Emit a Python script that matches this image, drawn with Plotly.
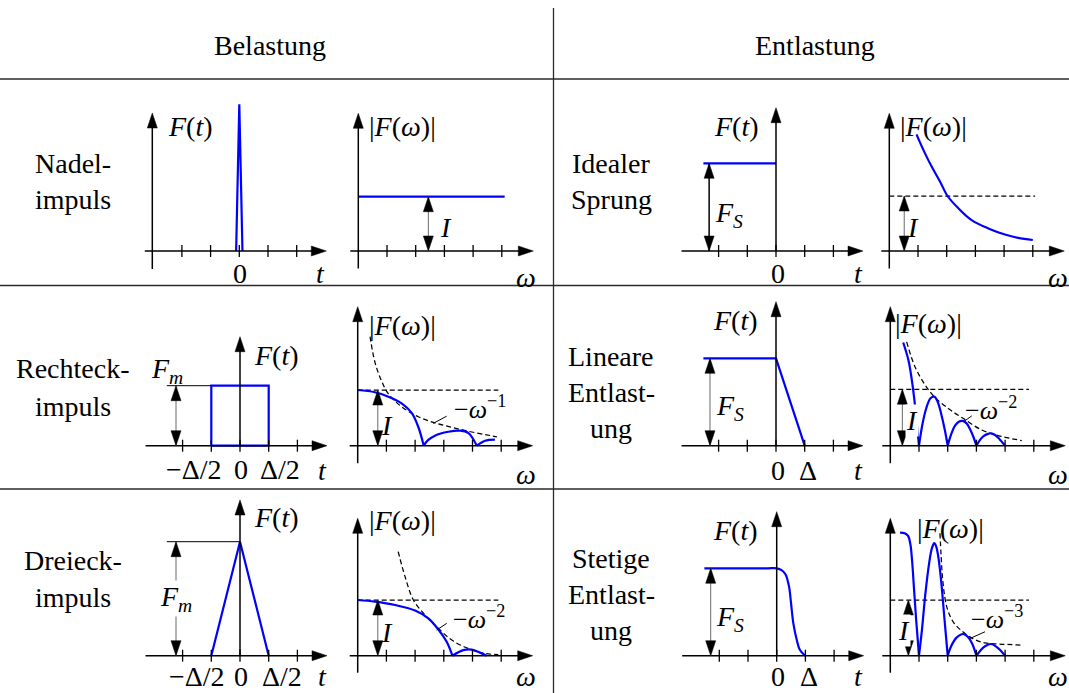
import plotly.graph_objects as go

W, H = 1069, 693
FONT = "Liberation Serif"

# ---------------- data ----------------
headers = ["Belastung", "Entlastung"]
labels_left = [["Nadel-", "impuls"], ["Rechteck-", "impuls"], ["Dreieck-", "impuls"]]
labels_right = [["Idealer", "Sprung"], ["Lineare", "Entlast-", "ung"], ["Stetige", "Entlast-", "ung"]]

time_ticks = [-2, -1, 0, 1, 2]
freq_ticks = [1, 2, 3, 4, 5]
I_level = [1.0, 1.0]

# Nadelimpuls
nadel_t = [-0.11, 0.0, 0.11]
nadel_F = [0.0, 1.0, 0.0]
nadel_w = [0.0, 5.1]
nadel_S = [1.0, 1.0]

# Idealer Sprung
sprung_t = [-2.53, 0.0]
sprung_F = [1.0, 1.0]
sprung_w = [0.95, 1.03, 1.24, 1.48, 1.77, 2.03, 2.40, 2.87, 3.45, 4.03, 4.49, 5.0]
sprung_S = [2.12, 2.02, 1.78, 1.53, 1.26, 1.0, 0.78, 0.56, 0.41, 0.30, 0.24, 0.2]
sprung_lvl_w = [0.0, 5.08]

# Rechteckimpuls
rect_t = [-1, -1, 1, 1, -1]
rect_F = [0, 1, 1, 0, 0]
rect_w = [0.0, 0.6, 1.07, 1.53, 1.88, 2.11, 2.3, None,
          2.3, 2.45, 2.69, 3.16, 3.56, 3.85, 4.15, None,
          4.15, 4.44, 4.78]
rect_S = [1.0, 0.96, 0.88, 0.76, 0.59, 0.34, 0.0, None,
          0.0, 0.10, 0.18, 0.25, 0.27, 0.23, 0.0, None,
          0.0, 0.09, 0.11]
rect_env_w = [0.43, 0.6, 0.84, 1.07, 1.53, 2.11, 2.69, 3.28, 3.85, 4.44, 4.85]
rect_env_S = [1.96, 1.5, 1.15, 0.93, 0.7, 0.52, 0.41, 0.33, 0.26, 0.2, 0.16]
rect_lvl_w = [0.0, 4.9]

# Dreieckimpuls
tri_t = [-1, 0, 1]
tri_F = [0, 1, 0]
tri_w = [0.0, 0.6, 1.3, 2.0, 2.46, 2.81, 3.1, 3.3, None,
         3.3, 3.68, 3.97, 4.26, 4.49]
tri_S = [1.0, 0.97, 0.91, 0.81, 0.67, 0.47, 0.25, 0.0, None,
         0.0, 0.10, 0.11, 0.055, 0.0]
tri_env_w = [1.41, 1.65, 1.94, 2.35, 2.75, 3.28, 3.85, 4.43, 4.9]
tri_env_S = [1.87, 1.42, 1.0, 0.73, 0.52, 0.28, 0.13, 0.04, 0.02]
tri_lvl_w = [0.0, 4.9]

# Lineare Entlastung
lin_t = [-2.53, 0.0, 1.0]
lin_F = [1.0, 1.0, 0.0]
lin_w = [0.45, 0.63, 0.74, 0.84, 0.92, 1.0, None,
         1.0, 1.12, 1.25, 1.4, 1.53, 1.65, 1.78, 1.9, 2.0, None,
         2.0, 2.12, 2.25, 2.4, 2.52, 2.65, 2.8, 2.9, 3.0, None,
         3.0, 3.12, 3.25, 3.4, 3.51, 3.65, 3.8, 3.9, 4.0]
lin_S = [1.83, 1.52, 1.2, 0.81, 0.4, 0.0, None,
         0.0, 0.38, 0.66, 0.84, 0.87, 0.78, 0.55, 0.28, 0.0, None,
         0.0, 0.2, 0.35, 0.43, 0.44, 0.4, 0.27, 0.15, 0.0, None,
         0.0, 0.1, 0.17, 0.21, 0.22, 0.19, 0.12, 0.06, 0.0]
lin_env_w = [0.57, 0.86, 1.21, 1.53, 2.02, 2.52, 3.18, 3.76, 4.58]
lin_env_S = [1.84, 1.4, 1.08, 0.87, 0.66, 0.49, 0.28, 0.18, 0.09]
lin_lvl_w = [0.0, 4.83]

# Stetige Entlastung
smooth_t = [-2.52, -0.3, 0.0, 0.17, 0.31, 0.43, 0.5, 0.58, 0.7, 0.81, 0.99]
smooth_F = [1.0, 1.0, 1.0, 0.98, 0.93, 0.79, 0.6, 0.37, 0.18, 0.065, 0.0]
smooth_w = [0.34, 0.5, 0.62, 0.7, 0.76, 0.82, 0.9, 1.0, None,
            1.0, 1.1, 1.22, 1.35, 1.45, 1.53, 1.6, 1.68, 1.78, 1.88, 2.0, None,
            2.0, 2.12, 2.3, 2.54, 2.7, 2.85, 3.0, None,
            3.0, 3.15, 3.3, 3.51, 3.7, 3.85, 4.0]
smooth_S = [2.21, 2.2, 2.15, 2.0, 1.7, 1.25, 0.65, 0.0, None,
            0.0, 0.45, 1.1, 1.65, 1.93, 2.02, 1.96, 1.75, 1.3, 0.7, 0.0, None,
            0.0, 0.17, 0.32, 0.39, 0.34, 0.22, 0.0, None,
            0.0, 0.1, 0.17, 0.21, 0.16, 0.09, 0.0]
smooth_env_w = [1.73, 1.77, 1.82, 1.9, 2.0, 2.2, 2.5, 2.9, 3.3, 3.8, 4.58]
smooth_env_S = [2.2, 1.8, 1.4, 1.05, 0.82, 0.6, 0.44, 0.3, 0.23, 0.21, 0.19]
smooth_lvl_w = [0.0, 4.83]

# ---------------- layout of the 12 small panels ----------------
SX = 28.7  # px per tick unit
# key: (origin px x, origin px y, px per y unit, kind, y-axis x offset, y-axis bottom, y-axis top)
panels = {
    "A1": (239.3, 251.0, 146.7, "t", -87, -18, 138),
    "A2": (358.3, 251.0, 54.3, "w", 0, -17.5, 137.7),
    "B1": (776.0, 251.0, 87.7, "t", 0, 0, 143.3),
    "B2": (889.3, 251.0, 55.0, "w", 0, -17.5, 137.7),
    "C1": (240.0, 445.7, 60.0, "t", 0, 0, 109),
    "C2": (357.7, 445.7, 55.7, "w", 0, -17.5, 139),
    "D1": (776.0, 445.7, 87.4, "t", 0, 0, 144),
    "D2": (890.3, 445.7, 56.4, "w", 0, -17.5, 139),
    "E1": (240.0, 655.7, 114.0, "t", 0, 0, 155.7),
    "E2": (357.7, 655.7, 55.7, "w", 0, -17, 137.4),
    "F1": (776.7, 655.7, 87.4, "t", 0, 0, 144),
    "F2": (890.3, 655.7, 55.7, "w", 0, -17, 137.4),
}
order = list(panels.keys())
ids = {k: ("" if i == 0 else str(i + 1)) for i, k in enumerate(order)}

fig = go.Figure()
shapes = []
annotations = []
layout_axes = {}


def seg_px(xr, yr, ax, ay, x0, y0, x1, y1, color="black", width=1.5, dash="solid"):
    shapes.append(dict(type="line", xref=xr, yref=yr, xsizemode="pixel", ysizemode="pixel",
                       xanchor=ax, yanchor=ay, x0=x0, y0=y0, x1=x1, y1=y1,
                       line=dict(color=color, width=width, dash=dash)))


def head(xr, yr, ax, ay, direction, dx=0.0, dy=0.0, L=15, hw=5):
    if direction == "right":
        pts = [(dx, dy), (dx - L, dy + hw), (dx - L, dy - hw)]
    elif direction == "up":
        pts = [(dx, dy), (dx - hw, dy - L), (dx + hw, dy - L)]
    else:
        pts = [(dx, dy), (dx - hw, dy + L), (dx + hw, dy + L)]
    path = "M " + " L ".join(f"{x:.2f},{y:.2f}" for x, y in pts) + " Z"
    shapes.append(dict(type="path", xref=xr, yref=yr, xsizemode="pixel", ysizemode="pixel",
                       xanchor=ax, yanchor=ay, path=path, fillcolor="black",
                       line=dict(color="black", width=0.5)))


def dbl_arrow(key, x, y0, y1, shaft="#6a6a6a", sw=1.0):
    xr, yr = "x" + ids[key], "y" + ids[key]
    shapes.append(dict(type="line", xref=xr, yref=yr, x0=x, x1=x, y0=y0, y1=y1,
                       line=dict(color=shaft, width=sw)))
    head(xr, yr, x, y1, "up")
    head(xr, yr, x, y0, "down")


def data_line(key, x0, y0, x1, y1, color="black", width=1.0):
    xr, yr = "x" + ids[key], "y" + ids[key]
    shapes.append(dict(type="line", xref=xr, yref=yr, x0=x0, x1=x1, y0=y0, y1=y1,
                       line=dict(color=color, width=width)))


def trace(key, x, y, color="blue", width=2.2, dash=None, shape="linear"):
    fig.add_trace(go.Scatter(x=x, y=y, xaxis="x" + ids[key], yaxis="y" + ids[key],
                             mode="lines", hoverinfo="skip", showlegend=False,
                             line=dict(color=color, width=width, dash=dash, shape=shape)))


def txt(x, y, s, size=28, bg=None):
    a = dict(x=x / W, y=1 - y / H, xref="paper", yref="paper", text=s, showarrow=False,
             font=dict(family=FONT, size=size, color="black"),
             xanchor="center", yanchor="middle", borderpad=0)
    if bg:
        a["bgcolor"] = bg
    annotations.append(a)


for key in order:
    ox, oy, sy, kind, yx, yb, yt = panels[key]
    n = ids[key]
    xr, yr = "x" + n, "y" + n
    layout_axes["xaxis" + n] = dict(domain=[0, 1], range=[-ox / SX, (W - ox) / SX],
                                    visible=False, fixedrange=True, anchor="y" + n)
    layout_axes["yaxis" + n] = dict(domain=[0, 1], range=[(oy - H) / sy, oy / sy],
                                    visible=False, fixedrange=True, anchor="x" + n)
    if kind == "t":
        xl, xt, ticks = -94.5, 87.0, time_ticks
    else:
        xl, xt, ticks = -8.0, 175.0, freq_ticks
    seg_px(xr, yr, 0, 0, xl, 0, xt - 4, 0)
    head(xr, yr, 0, 0, "right", dx=xt)
    seg_px(xr, yr, 0, 0, yx, yb, yx, yt - 4)
    head(xr, yr, 0, 0, "up", dx=yx, dy=yt)
    for tk in ticks:
        seg_px(xr, yr, tk, 0, 0, -6, 0, 6, width=1.3)

# ---------------- curves ----------------
DASH = "5px,3px"
DW = 1.25
# Nadelimpuls
trace("A1", nadel_t, nadel_F)
trace("A2", nadel_w, nadel_S)
dbl_arrow("A2", 2.44, 0, 1)
# Idealer Sprung
trace("B1", sprung_t, sprung_F)
dbl_arrow("B1", -2.33, 0, 1, shaft="black", sw=1.5)
trace("B2", sprung_lvl_w, I_level, color="black", width=DW, dash=DASH)
trace("B2", sprung_w, sprung_S, shape="spline")
dbl_arrow("B2", 0.52, 0, 1)
# Rechteck
trace("C1", rect_t, rect_F)
data_line("C1", -2.55, 1, -1, 1)
dbl_arrow("C1", -2.23, 0, 1)
trace("C2", rect_lvl_w, I_level, color="black", width=DW, dash=DASH)
trace("C2", rect_env_w, rect_env_S, color="black", width=DW, dash=DASH, shape="spline")
trace("C2", rect_w, rect_S, shape="spline")
dbl_arrow("C2", 0.7, 0, 1)
data_line("C2", 2.63, 0.40, 3.1, 0.53)
# Lineare Entlastung
trace("D1", lin_t, lin_F)
dbl_arrow("D1", -2.3, 0, 1)
trace("D2", lin_lvl_w, I_level, color="black", width=DW, dash=DASH)
trace("D2", lin_env_w, lin_env_S, color="black", width=DW, dash=DASH, shape="spline")
trace("D2", lin_w, lin_S, shape="spline")
dbl_arrow("D2", 0.42, 0, 1)
data_line("D2", 2.57, 0.43, 2.84, 0.53)
# Dreieck
trace("E1", tri_t, tri_F)
data_line("E1", -2.55, 1, 0, 1)
dbl_arrow("E1", -2.23, 0, 1)
trace("E2", tri_lvl_w, I_level, color="black", width=DW, dash=DASH)
trace("E2", tri_env_w, tri_env_S, color="black", width=DW, dash=DASH, shape="spline")
trace("E2", tri_w, tri_S, shape="spline")
dbl_arrow("E2", 0.7, 0, 1)
data_line("E2", 2.75, 0.46, 3.1, 0.58)
# Stetige Entlastung
trace("F1", smooth_t, smooth_F, shape="spline")
dbl_arrow("F1", -2.3, 0, 1)
trace("F2", smooth_lvl_w, I_level, color="black", width=DW, dash=DASH)
trace("F2", smooth_env_w, smooth_env_S, color="black", width=DW, dash=DASH, shape="spline")
trace("F2", smooth_w, smooth_S, shape="spline")
dbl_arrow("F2", 0.63, 0, 1)
data_line("F2", 2.78, 0.31, 3.3, 0.43)

# ---------------- table lines ----------------
TC = "#2a2a2a"
for yy in (79, 285.5, 489):
    shapes.append(dict(type="line", xref="paper", yref="paper", x0=0, x1=1,
                       y0=1 - yy / H, y1=1 - yy / H, line=dict(color=TC, width=1.3)))
shapes.append(dict(type="line", xref="paper", yref="paper", x0=553.5 / W, x1=553.5 / W,
                   y0=1 - 8 / H, y1=0, line=dict(color=TC, width=1.3)))

# ---------------- texts ----------------
txt(270, 45, headers[0], 28)
txt(815, 45, headers[1], 28)
left_y = [[163, 200], [369, 406], [560, 597]]
right_y = [[163, 200], [356, 392, 428], [558, 594, 630]]
for lines, ys in zip(labels_left, left_y):
    for s, yy in zip(lines, ys):
        txt(73, yy, s, 28)
for lines, ys in zip(labels_right, right_y):
    for s, yy in zip(lines, ys):
        txt(611, yy, s, 28)

Ft = "<i>F</i>(<i>t</i>)"
Fw = "|<i>F</i>(<i>ω</i>)|"
FS = "<i>F</i><sub><i>S</i></sub>"
Fm = "<i>F</i><sub><i>m</i></sub>"
# row 1
txt(190, 127, Ft); txt(239.5, 273, "0"); txt(320, 273, "<i>t</i>")
txt(402.5, 127, Fw); txt(446, 228, "<i>I</i>"); txt(526, 277, "<i>ω</i>")
txt(736.5, 126, Ft); txt(729, 214, FS); txt(778, 273, "0"); txt(858, 273, "<i>t</i>")
txt(933, 127, Fw); txt(913, 227, "<i>I</i>"); txt(1058, 277, "<i>ω</i>")
# row 2
txt(276, 355, Ft); txt(167, 370, Fm)
txt(194, 469, "−Δ/2"); txt(241, 469, "0"); txt(280, 469, "Δ/2"); txt(322, 470, "<i>t</i>")
txt(402.5, 325, Fw); txt(387, 425, "<i>I</i>"); txt(480, 407, "−<i>ω</i><sup>−1</sup>", 26)
txt(526, 475, "<i>ω</i>")
txt(735, 320, Ft); txt(730, 407, FS); txt(778, 470, "0"); txt(808, 470, "Δ"); txt(858, 470, "<i>t</i>")
txt(928, 323, Fw); txt(911.5, 420, "<i>I</i>", bg="white"); txt(991, 408, "−<i>ω</i><sup>−2</sup>", 26)
txt(1058, 475, "<i>ω</i>")
# row 3
txt(276, 517, Ft); txt(176, 598, Fm, bg="white")
txt(197, 676, "−Δ/2"); txt(241, 676, "0"); txt(282, 676, "Δ/2"); txt(322, 676, "<i>t</i>")
txt(402.5, 520, Fw); txt(387, 632, "<i>I</i>"); txt(479, 617, "−<i>ω</i><sup>−2</sup>", 26)
txt(526, 676, "<i>ω</i>")
txt(735, 530, Ft); txt(730, 618, FS); txt(778, 676, "0"); txt(809, 676, "Δ"); txt(858, 676, "<i>t</i>")
txt(950, 528, Fw); txt(904, 630, "<i>I</i>", bg="white"); txt(997, 617, "−<i>ω</i><sup>−3</sup>", 26)
txt(1058, 676, "<i>ω</i>")

fig.update_layout(width=W, height=H, margin=dict(l=0, r=0, t=0, b=0),
                  paper_bgcolor="white", plot_bgcolor="rgba(0,0,0,0)",
                  showlegend=False, shapes=shapes, annotations=annotations,
                  **layout_axes)
fig.write_html("out.html", config={"displayModeBar": False},
               post_script="document.body.style.margin='0';document.body.style.padding='0';")
